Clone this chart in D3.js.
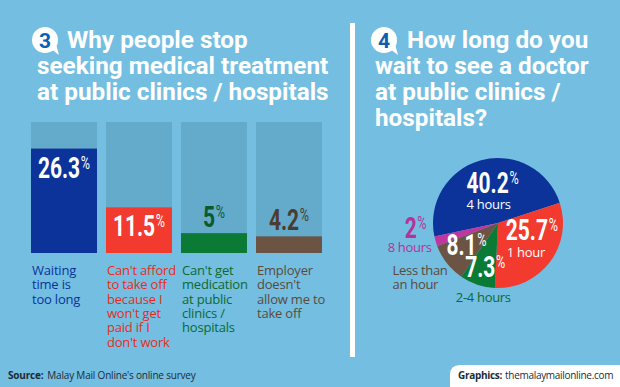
<!DOCTYPE html>
<html>
<head>
<meta charset="utf-8">
<script src="https://cdn.jsdelivr.net/npm/d3@7"></script>
<style>
  html, body { margin: 0; padding: 0; background: #74bee1; }
  svg { display: block; }
  .narrow { font-family: Roboto, "Liberation Sans", sans-serif; font-weight: bold; }
  .body { font-family: "Open Sans", "Noto Sans", sans-serif; }
  .title { font-family: Roboto, "Open Sans", sans-serif; font-weight: bold; fill: #fff; }
</style>
</head>
<body>
<div id="chart"></div>
<script>
// chart 3: reasons for stopping treatment
const reasonLabels = [
  ["Waiting", "time is", "too long"],
  ["Can't afford", "to take off", "because I", "won't get", "paid if I", "don't work"],
  ["Can't get", "medication", "at public", "clinics /", "hospitals"],
  ["Employer", "doesn't", "allow me to", "take off"]
]
const reasonValues = [26.3, 11.5, 5, 4.2]

// chart 4: waiting time
const waitLabels = [["4 hours"], ["1 hour"], ["2-4 hours"], ["Less than", "an hour"], ["8 hours"]]
const waitValues = [40.2, 25.7, 7.3, 8.1, 2]

const width = 620
const height = 387

const barColors = ["#0b3399", "#f23a2e", "#0a7a35", "#6b5443"]
const barTextColors = ["#0b3399", "#ea2a20", "#0b6a30", "#5a4a3c"]
const outsideValueColors = [null, null, "#0c5a2c", "#4b3c30"]
const pieColors = ["#0b3399", "#f23a2e", "#0a7a35", "#6b5443", "#c0359e"]
const pieSubColors = ["#fff", "#fff", "#0b6a30", "#5a4a3c", "#b8309a"]

const svg = d3.select("#chart").append("svg")
  .attr("width", width)
  .attr("height", height)

svg.append("rect").attr("width", width).attr("height", height).attr("fill", "#74bee1")

// badge with number (speech bubble)
function badge(cx, cy, num) {
  const g = svg.append("g").attr("transform", `translate(${cx},${cy})`)
  g.append("path").attr("d", "M6,9 L14,15 L11,4 Z").attr("fill", "#fff")
  g.append("circle").attr("r", 13).attr("fill", "#fff")
  g.append("text").attr("class", "title").attr("y", 7.5).attr("text-anchor", "middle")
    .attr("font-size", 21).style("fill", "#0d5db5").text(num)
}

function title(x0, x1, y0, lines) {
  const t = svg.append("text").attr("class", "title").attr("font-size", 24.3)
  lines.forEach((l, i) => {
    t.append("tspan").attr("x", i === 0 ? x0 : x1).attr("y", y0 + i * 26).text(l)
  })
}

badge(45, 40, "3")
title(67, 37, 48, ["Why people stop", "seeking medical treatment", "at public clinics / hospitals"])
badge(384, 40, "4")
title(407, 375, 48, ["How long do you", "wait to see a doctor", "at public clinics /", "hospitals?"])

// divider
svg.append("rect").attr("x", 350).attr("y", 23).attr("width", 5).attr("height", 334).attr("fill", "#fff")

// condensed value label with small raised percent sign
function valueText(parent, x, y, v, color) {
  const t = parent.append("text").attr("class", "narrow")
    .attr("transform", `translate(${x},${y}) scale(0.7,1)`)
    .attr("text-anchor", "middle")
    .attr("font-size", 30)
    .attr("fill", color)
  t.append("tspan").text(v)
  t.append("tspan").attr("font-size", 18).attr("dy", -9).attr("dx", 1).style("font-weight", "normal").text("%")
  return t
}

// ---- bars
const xScale = d3.scaleBand(d3.range(reasonValues.length), [31, 322]).paddingInner(0.12)
const yScale = d3.scaleLinear([0, 33], [253, 122])

const bars = svg.append("g")
bars.selectAll(".track").data(reasonValues).join("rect")
  .attr("x", (d, i) => xScale(i))
  .attr("y", yScale(33))
  .attr("width", xScale.bandwidth())
  .attr("height", yScale(0) - yScale(33))
  .attr("fill", "#63aacb")

bars.selectAll(".bar").data(reasonValues).join("rect")
  .attr("x", (d, i) => xScale(i))
  .attr("y", d => yScale(d))
  .attr("width", xScale.bandwidth())
  .attr("height", d => yScale(0) - yScale(d))
  .attr("fill", (d, i) => barColors[i])

reasonValues.forEach((v, i) => {
  const inside = yScale(0) - yScale(v) > 35
  valueText(bars, xScale(i) + xScale.bandwidth() / 2,
    inside ? yScale(v) + 29 : yScale(v) - 6, v,
    inside ? "#fff" : outsideValueColors[i])

  const lab = bars.append("text").attr("class", "body")
    .attr("font-size", 13).attr("letter-spacing", -0.2)
    .attr("fill", barTextColors[i])
  reasonLabels[i].forEach((l, j) => {
    lab.append("tspan").attr("x", xScale(i) + 1).attr("y", 275 + j * 14.3).text(l)
  })
})

// ---- pie
const cx = 498, cy = 223, r = 65
const startA = -102 * Math.PI / 180
const pie = d3.pie().sort(null).startAngle(startA).endAngle(startA + 2 * Math.PI)
const arcs = pie(waitValues)
const arc = d3.arc().innerRadius(0).outerRadius(r)
const labelArc = d3.arc().innerRadius(40).outerRadius(40)

const pg = svg.append("g").attr("transform", `translate(${cx},${cy})`)
pg.selectAll("path").data(arcs).join("path")
  .attr("d", arc)
  .attr("fill", (d, i) => pieColors[i])

// label nudges from centroid: value [dx, dy], sub label [dx, dy, anchor]
const pieLabelLayout = [
  { v: [5, 9], s: [-4, 16, "middle"], vc: "#fff" },
  { v: [2, -7], s: [-25, 17, "start"], vc: "#fff" },
  { v: [0, 16], s: [-2, 25, "middle"], vc: "#fff" },
  { v: [0, 7], s: [-74, 20, "start"], vc: "#fff" },
  { v: [-44, 4], s: [-6, 14, "middle"], vc: "#b8309a" }
]

arcs.forEach((d, i) => {
  const [x, y] = labelArc.centroid(d)
  const L = pieLabelLayout[i]
  const vx = x + L.v[0], vy = y + L.v[1]
  valueText(pg, vx, vy, waitValues[i], L.vc)

  const s = pg.append("text").attr("class", "body")
    .attr("font-size", 13).attr("letter-spacing", -0.3)
    .attr("text-anchor", L.s[2])
    .attr("fill", pieSubColors[i])
  waitLabels[i].forEach((l, j) => {
    s.append("tspan").attr("x", vx + L.s[0]).attr("y", vy + L.s[1] + j * 14).text(l)
  })
})

// ---- footer
const src = svg.append("text").attr("class", "body").attr("x", 8).attr("y", 379)
  .attr("font-size", 10).attr("letter-spacing", -0.2).attr("fill", "#1d2b36")
src.append("tspan").attr("font-weight", "bold").text("Source:")
src.append("tspan").attr("dx", 4).text("Malay Mail Online's online survey")

svg.append("path")
  .attr("d", `M450,${height} L450,375 Q450,365 460,365 L${width},365 L${width},${height} Z`)
  .attr("fill", "#fff")
const gr = svg.append("text").attr("class", "body").attr("x", 458).attr("y", 379)
  .attr("font-size", 10).attr("letter-spacing", -0.3).attr("fill", "#1d2b36")
gr.append("tspan").attr("font-weight", "bold").text("Graphics:")
gr.append("tspan").attr("dx", 3).text("themalaymailonline.com")
</script>
</body>
</html>
